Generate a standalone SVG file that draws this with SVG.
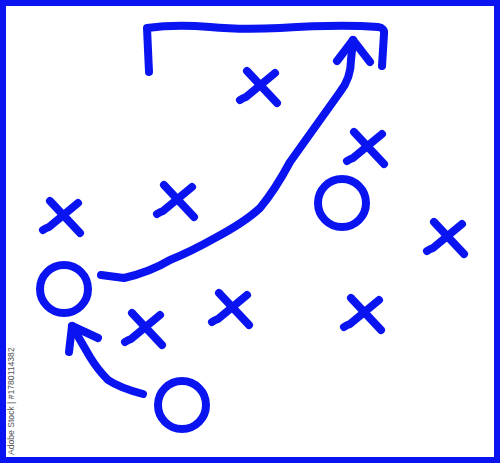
<svg xmlns="http://www.w3.org/2000/svg" width="500" height="463" viewBox="0 0 500 463">
<style>
.ink{fill:none;stroke:#0a14f0;stroke-width:8;stroke-linecap:round;stroke-linejoin:round}
.wm{font-family:"Liberation Sans",Arial,sans-serif;font-size:8.6px;fill:#555}
</style>
<defs>
<g id="xmark">
<path class="ink" d="M-13,-15 L17,17"/>
<path class="ink" d="M-20,14 Q-17,12 -14,11 L15,-13"/>
</g>
</defs>
<rect x="0" y="0" width="500" height="463" fill="#fff"/>
<rect x="3" y="3" width="494" height="457" fill="none" stroke="#0a14f0" stroke-width="6"/>
<text class="wm" transform="translate(14,455) rotate(-90)">Adobe Stock | #1780114382</text>
<g id="goal"><path class="ink" d="M149,72 L147,28 Q175,24 210,27 Q240,30 280,28 Q340,24 378,27 Q385,28 384,34 L382,66"/></g>
<g id="x1"><use href="#xmark" x="260" y="86"/></g>
<g id="x2"><use href="#xmark" x="367" y="147"/></g>
<g id="x3"><use href="#xmark" x="63" y="216"/></g>
<g id="x4"><use href="#xmark" x="177" y="200"/></g>
<g id="x5"><use href="#xmark" x="447" y="237"/></g>
<g id="x6"><use href="#xmark" x="145" y="328"/></g>
<g id="x7"><use href="#xmark" x="232" y="308"/></g>
<g id="x8"><use href="#xmark" x="364" y="313"/></g>
<g id="o1"><circle class="ink" cx="64" cy="289" r="24"/></g>
<g id="o2"><circle class="ink" cx="342" cy="203" r="24"/></g>
<g id="o3"><circle class="ink" cx="182" cy="405" r="24"/></g>
<g id="connectors">
<path class="ink" d="M101,275 L124,278 Q150,272 170,260 Q190,252 215,238 Q245,222 260,208 Q275,190 290,162 Q320,120 340,92 Q351,78 351,60 L353,40"/>
<path class="ink" d="M337,61 L353,40 L370,62"/>
<path class="ink" d="M143,394 Q120,388 108,380 Q98,370 90,357 L72,326"/>
<path class="ink" d="M69,352 L72,326 L98,338"/>
</g>
</svg>
